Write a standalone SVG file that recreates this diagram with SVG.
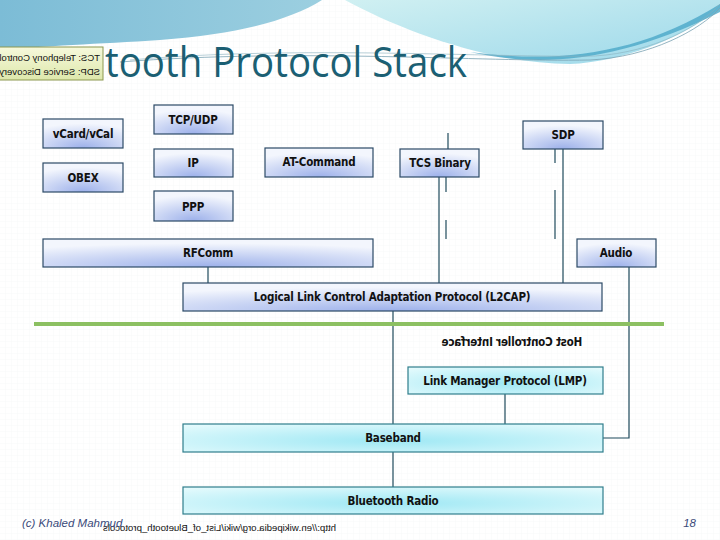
<svg xmlns="http://www.w3.org/2000/svg" width="720" height="540" viewBox="0 0 720 540">
<style>
.nb{fill:url(#gb);stroke:#2c4a66;stroke-width:1.2}
.nc{fill:url(#gc);stroke:#2f7e8c;stroke-width:1.2}
.lbl{font-family:"Liberation Sans Narrow","DejaVu Sans Condensed","Liberation Sans",sans-serif;font-weight:bold;font-size:11.5px;letter-spacing:-0.2px;fill:#111;text-anchor:middle}
.cn line{stroke:#1f4a5c;stroke-width:1.2}
.cn path{stroke:#1f4a5c;stroke-width:1.2;fill:none}
</style>
<defs>
<radialGradient id="gb" cx="0.5" cy="1" r="0.85">
<stop offset="0" stop-color="#9cb0ea"/>
<stop offset="1" stop-color="#f3f6fd"/>
</radialGradient>
<radialGradient id="gc" cx="0.5" cy="0.6" r="0.75">
<stop offset="0" stop-color="#9fe8f4"/>
<stop offset="1" stop-color="#e6fbfd"/>
</radialGradient>
<linearGradient id="gtl" x1="0" y1="0" x2="1" y2="0">
<stop offset="0" stop-color="#7cbcd6"/>
<stop offset="1" stop-color="#9ccfe0"/>
</linearGradient>
<linearGradient id="gtr" x1="0" y1="0" x2="1" y2="1">
<stop offset="0" stop-color="#d0f0f2"/>
<stop offset="1" stop-color="#9cd8ea"/>
</linearGradient>
<linearGradient id="gy" x1="0" y1="0" x2="0" y2="1">
<stop offset="0" stop-color="#f7f9dc"/>
<stop offset="1" stop-color="#dde7ab"/>
</linearGradient>
<pattern id="grid" width="6" height="6" patternUnits="userSpaceOnUse">
<path d="M6,0 V6 M0,6 H6" stroke="#f7f8f9" stroke-width="1" fill="none"/>
</pattern>
<clipPath id="tipclip"><rect x="0" y="47" width="103" height="33"/></clipPath>
</defs>
<rect width="720" height="540" fill="#ffffff"/>
<rect width="720" height="540" fill="url(#grid)"/>
<g id="background">
<path d="M0,0 H322 C290,20 240,34 160,40 C100,44 40,46 0,50 Z" fill="url(#gtl)"/>
<path d="M345,0 H720 V8 C680,40 620,62 570,64 C490,64 400,30 345,0 Z" fill="url(#gtr)"/>
<path d="M470,52 C540,68 620,62 720,12 L720,4 C640,54 560,64 470,52 Z" fill="#4ba8c8" opacity="0.8"/>
<path d="M120,62 C300,48 480,62 590,60 C650,57 700,30 720,8" stroke="#7aa2b2" stroke-width="0.8" fill="none"/>
<path d="M130,60 C300,45 490,58 595,56 C655,52 700,26 720,4" stroke="#8ab0be" stroke-width="0.6" fill="none"/>
</g>
<text id="title" x="105" y="77" textLength="362" lengthAdjust="spacingAndGlyphs" font-family="'Open Sans','Noto Sans',sans-serif" font-size="42" fill="#1b5f73">tooth Protocol Stack</text>
<g id="tooltip">
<rect x="-1" y="47" width="104" height="33" fill="url(#gy)" stroke="#8c9850" stroke-width="1"/>
<g clip-path="url(#tipclip)" font-family="'Liberation Sans',sans-serif" font-size="9.5" fill="#111">
<text transform="translate(100,0) scale(-1,1)" x="0" y="61">TCS: Telephony Control</text>
<text transform="translate(100,0) scale(-1,1)" x="0" y="75">SDP: Service Discovery</text>
</g>
</g>
<g class="cn" id="connectors">
<line x1="448" y1="133" x2="448" y2="149"/>
<line x1="446" y1="177" x2="446" y2="192"/>
<line x1="446" y1="220" x2="446" y2="239"/>
<line x1="439" y1="177" x2="439" y2="283"/>
<line x1="555" y1="149" x2="555" y2="163"/>
<line x1="555" y1="190" x2="555" y2="239"/>
<line x1="563" y1="149" x2="563" y2="283"/>
<line x1="208" y1="267" x2="208" y2="283"/>
<line x1="393" y1="311" x2="393" y2="424"/>
<line x1="505" y1="394" x2="505" y2="424"/>
<line x1="393" y1="452" x2="393" y2="487"/>
<path d="M629,267 V438 H603"/>
</g>
<line id="hci-line" x1="34" y1="324" x2="664" y2="324" stroke="#8cc062" stroke-width="4"/>
<g id="vcard"><rect class="nb" x="43" y="119" width="80" height="29"/><text class="lbl" x="83" y="138">vCard/vCal</text></g>
<g id="obex"><rect class="nb" x="43" y="163" width="80" height="29"/><text class="lbl" x="83" y="182">OBEX</text></g>
<g id="tcpudp"><rect class="nb" x="154" y="105" width="79" height="29"/><text class="lbl" x="193" y="124">TCP/UDP</text></g>
<g id="ip"><rect class="nb" x="154" y="149" width="79" height="28"/><text class="lbl" x="193" y="167">IP</text></g>
<g id="atcommand"><rect class="nb" x="265" y="148" width="108" height="29"/><text class="lbl" x="319" y="166">AT-Command</text></g>
<g id="tcsbinary"><rect class="nb" x="400" y="149" width="79" height="28"/><text class="lbl" x="440" y="167">TCS Binary</text></g>
<g id="sdp"><rect class="nb" x="523" y="121" width="80" height="28"/><text class="lbl" x="563" y="139">SDP</text></g>
<g id="ppp"><rect class="nb" x="154" y="191" width="79" height="30"/><text class="lbl" x="193" y="211">PPP</text></g>
<g id="rfcomm"><rect class="nb" x="43" y="239" width="330" height="28"/><text class="lbl" x="208" y="257">RFComm</text></g>
<g id="audio"><rect class="nb" x="577" y="239" width="79" height="28"/><text class="lbl" x="616" y="257">Audio</text></g>
<g id="l2cap"><rect class="nb" x="183" y="283" width="419" height="28"/><text class="lbl" x="392" y="301">Logical Link Control Adaptation Protocol (L2CAP)</text></g>
<text id="hci" class="lbl" transform="scale(-1,1)" x="-512" y="346">Host Controller Interface</text>
<g id="lmp"><rect class="nc" x="408" y="367" width="195" height="27"/><text class="lbl" x="505" y="385">Link Manager Protocol (LMP)</text></g>
<g id="baseband"><rect class="nc" x="183" y="424" width="420" height="28"/><text class="lbl" x="393" y="442">Baseband</text></g>
<g id="radio"><rect class="nc" x="183" y="487" width="420" height="27"/><text class="lbl" x="393" y="505">Bluetooth Radio</text></g>
<g id="footer">
<text transform="translate(336,0) scale(-1,1)" x="0" y="531" font-family="'Liberation Sans',sans-serif" font-size="9.6" fill="#111">http://en.wikipedia.org/wiki/List_of_Bluetooth_protocols</text>
<text x="22" y="527" font-family="'Liberation Sans',sans-serif" font-style="italic" font-size="11.5" fill="#3a4a7a">(c) Khaled Mahmud</text>
<text x="696" y="527" text-anchor="end" font-family="'Liberation Sans',sans-serif" font-style="italic" font-size="11.5" fill="#3a4a7a">18</text>
</g>
</svg>
